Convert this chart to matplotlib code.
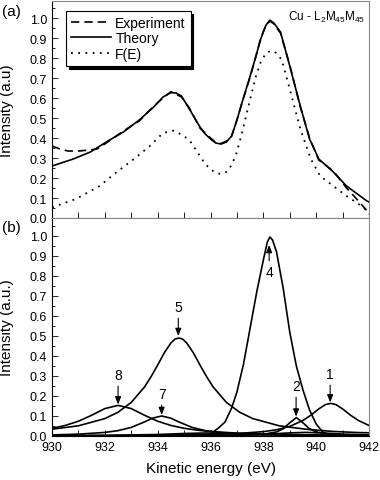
import numpy as np
import matplotlib
matplotlib.use('Agg')
import matplotlib.pyplot as plt
from matplotlib.ticker import MultipleLocator

plt.rcParams['font.family'] = ['Liberation Sans', 'DejaVu Sans']
plt.rcParams['mathtext.fontset'] = 'custom'
plt.rcParams['mathtext.rm'] = 'Liberation Sans'
plt.rcParams['mathtext.it'] = 'Liberation Sans'

# (a) measured spectrum, fitted theory and F(E)
exp_x = [930.0, 930.3, 930.6, 931.0, 931.4, 931.7, 932.05, 932.7, 933.3, 933.85, 934.2, 934.5, 934.9,
         935.2, 935.6, 935.8, 936.0, 936.2, 936.4, 936.6, 936.8, 937.0, 937.2, 937.5, 937.7, 937.9,
         938.1, 938.25, 938.4, 938.65, 939.0, 939.4, 939.75, 940.1, 940.65, 941.15, 941.5, 941.9, 942.0]
exp_y = [0.36, 0.345, 0.335, 0.335, 0.34, 0.345, 0.375, 0.435, 0.485, 0.56, 0.6, 0.632, 0.605,
         0.55, 0.45, 0.425, 0.40, 0.378, 0.372, 0.385, 0.41, 0.49, 0.58, 0.705, 0.80, 0.90,
         0.965, 0.985, 0.97, 0.925, 0.765, 0.555, 0.4, 0.29, 0.235, 0.15, 0.10, 0.04, 0.02]

theory_x = [930.0, 930.8, 931.45, 932.05, 932.7, 933.3, 933.85, 934.2, 934.5, 934.7, 934.9, 935.2, 935.6,
            935.8, 936.0, 936.2, 936.4, 936.6, 936.8, 937.0, 937.2, 937.5, 937.7, 937.9, 938.1, 938.25,
            938.4, 938.65, 939.0, 939.4, 939.75, 940.1, 940.65, 941.15, 941.9, 942.0]
theory_y = [0.26, 0.295, 0.33, 0.38, 0.43, 0.49, 0.555, 0.605, 0.627, 0.625, 0.61, 0.545, 0.455,
            0.42, 0.395, 0.375, 0.37, 0.38, 0.41, 0.49, 0.58, 0.71, 0.80, 0.895, 0.965, 0.99,
            0.975, 0.93, 0.76, 0.56, 0.395, 0.295, 0.23, 0.16, 0.087, 0.08]

fe_x = [930.0, 930.9, 931.8, 932.45, 933.1, 933.7, 934.2, 934.6, 935.0, 935.25, 935.6, 935.8, 936.0,
        936.2, 936.4, 936.6, 936.8, 937.0, 937.2, 937.5, 937.7, 937.9, 938.1, 938.3, 938.5, 938.7,
        939.0, 939.4, 939.8, 940.15, 940.65, 941.15, 941.8, 942.0]
fe_y = [0.053, 0.095, 0.16, 0.23, 0.295, 0.36, 0.425, 0.437, 0.41, 0.38, 0.31, 0.27, 0.245,
        0.225, 0.22, 0.23, 0.265, 0.33, 0.43, 0.595, 0.70, 0.78, 0.825, 0.837, 0.825, 0.79,
        0.645, 0.445, 0.295, 0.21, 0.16, 0.11, 0.053, 0.02]

# (b) fitted components
c1_x = [930, 934, 936, 937, 938, 938.5, 939, 939.5, 939.8, 940.1, 940.35, 940.55, 940.75, 941, 941.3, 941.6, 942]
c1_y = [0.0014, 0.0037, 0.0075, 0.012, 0.0217, 0.0313, 0.048, 0.0776, 0.104, 0.1355, 0.157, 0.163,
        0.157, 0.1355, 0.104, 0.0776, 0.0526]

c2_x = [930, 935, 937, 937.5, 938, 938.5, 938.75, 939, 939.25, 939.5, 939.75, 940, 940.5, 941, 941.5, 942]
c2_y = [0.0002, 0.0008, 0.0028, 0.0046, 0.0085, 0.0204, 0.0359, 0.066, 0.092, 0.066, 0.0359, 0.0204,
        0.0085, 0.0046, 0.0028, 0.0019]

c3_x = [930, 934, 936, 937, 938, 939, 939.6, 940.2, 941, 942]
c3_y = [0.0004, 0.0012, 0.0027, 0.0045, 0.0084, 0.0155, 0.018, 0.0155, 0.0096, 0.0052]

c4_x = [930, 935.8, 936.0, 936.3, 936.55, 936.8, 937.0, 937.25, 937.5, 937.75, 938.0, 938.15, 938.25,
        938.35, 938.5, 938.75, 939.0, 939.25, 939.5, 939.75, 940.0, 940.25, 940.5, 941.0, 942]
c4_y = [0.0, 0.0, 0.01, 0.04, 0.07, 0.14, 0.22, 0.36, 0.54, 0.72, 0.88, 0.97, 0.995,
        0.98, 0.92, 0.74, 0.52, 0.35, 0.23, 0.13, 0.06, 0.02, 0.005, 0.0, 0.0]

c5_x = [930, 931, 932, 932.5, 933, 933.5, 933.75, 934, 934.25, 934.5, 934.65, 934.8, 934.95, 935.1,
        935.35, 935.6, 935.85, 936.1, 936.6, 937.1, 937.6, 938.6, 939.6, 940.6, 941.6, 942]
c5_y = [0.034, 0.051, 0.087, 0.119, 0.168, 0.245, 0.297, 0.355, 0.416, 0.465, 0.484, 0.49, 0.484, 0.465,
        0.416, 0.355, 0.297, 0.245, 0.168, 0.119, 0.087, 0.051, 0.034, 0.023, 0.017, 0.016]

c6_x = [930, 932, 934, 935, 935.8, 936.6, 938, 940, 942]
c6_y = [0.0015, 0.0031, 0.0075, 0.0125, 0.015, 0.0125, 0.0061, 0.0023, 0.0012]

c7_x = [930, 931, 932, 932.5, 933, 933.5, 933.8, 934.15, 934.5, 934.8, 935.3, 935.8, 936.3, 937, 938, 939, 940, 942]
c7_y = [0.0055, 0.0092, 0.0178, 0.0269, 0.043, 0.0703, 0.089, 0.10, 0.089, 0.0703, 0.043, 0.0269,
        0.0178, 0.011, 0.0063, 0.0041, 0.0028, 0.0016]

c8_x = [930, 930.5, 931, 931.5, 932, 932.5, 933, 933.5, 934, 934.5, 935, 935.5, 936, 937, 938, 939, 940, 941, 942]
c8_y = [0.0385, 0.0527, 0.0739, 0.1037, 0.137, 0.153, 0.137, 0.1037, 0.0739, 0.0527, 0.0385, 0.029,
        0.0224, 0.0144, 0.0099, 0.0073, 0.0055, 0.0043, 0.0035]

# peak labels with arrows pointing down onto the peaks
peak_labels = ['1', '2', '5', '7', '8']
peak_pos = [940.53, 939.24, 934.78, 934.15, 932.5]
peak_top = [0.168, 0.097, 0.50, 0.105, 0.158]
label_y = [0.275, 0.215, 0.61, 0.175, 0.27]

fig = plt.figure(figsize=(3.8, 4.81), dpi=100)
ax1 = fig.add_axes([0.137, 0.5447, 0.834, 0.451])
ax2 = fig.add_axes([0.137, 0.0915, 0.834, 0.4532], sharex=ax1)

lw = 1.2
ax1.plot(exp_x, exp_y, color='k', lw=lw, ls=(0, (5, 3)), label='Experiment')
ax1.plot(theory_x, theory_y, color='k', lw=lw, label='Theory')
ax1.plot(fe_x, fe_y, color='k', lw=1.3, ls=(0, (1, 3)), label='F(E)')

leg = ax1.legend(loc='upper left', bbox_to_anchor=(0.044, 0.955), borderaxespad=0, fancybox=False,
                 edgecolor='k', framealpha=1, fontsize=10, handlelength=2.9, handletextpad=0.3,
                 labelspacing=0.12, borderpad=0.35, shadow={'color': 'k', 'alpha': 1})
leg.get_frame().set_linewidth(0.8)

ax1.text(941.85, 1.01, r'Cu - L$_2$M$_{45}$M$_{45}$', ha='right', va='center', fontsize=8.5)

for xs, ys in [(c1_x, c1_y), (c2_x, c2_y), (c3_x, c3_y), (c4_x, c4_y),
               (c5_x, c5_y), (c6_x, c6_y), (c7_x, c7_y), (c8_x, c8_y)]:
    ax2.plot(xs, ys, color='k', lw=lw)

arrow = dict(arrowstyle='-|>,head_length=0.45,head_width=0.18', color='k', lw=0.8, shrinkA=1, shrinkB=0)
for lab, px, pt, ty in zip(peak_labels, peak_pos, peak_top, label_y):
    ax2.annotate(lab, xy=(px, pt), xytext=(px, ty), ha='center', va='bottom', fontsize=10,
                 arrowprops=arrow)
ax2.annotate('4', xy=(938.22, 0.955), xytext=(938.22, 0.855), ha='center', va='top', fontsize=10,
             arrowprops=arrow)

for ax, top in [(ax1, 1.085), (ax2, 1.09)]:
    ax.set_xlim(930, 942)
    ax.set_ylim(0, top)
    ax.yaxis.set_major_locator(MultipleLocator(0.1))
    ax.yaxis.set_minor_locator(MultipleLocator(0.05))
    ax.xaxis.set_major_locator(MultipleLocator(2))
    ax.xaxis.set_minor_locator(MultipleLocator(1))
    ax.tick_params(which='both', direction='in', labelsize=9)
    ax.tick_params(which='major', length=4, width=0.6)
    ax.tick_params(which='minor', length=4, width=0.6)
    ax.tick_params(axis='y', which='minor', length=2)
    for s in ['top', 'right']:
        ax.spines[s].set_color('#888888')
        ax.spines[s].set_linewidth(0.8)
    for s in ['left', 'bottom']:
        ax.spines[s].set_linewidth(0.8)
    ax.yaxis.set_major_formatter(plt.FuncFormatter(lambda v, p: f'{v:.1f}'))

ax1.tick_params(labelbottom=False)
ax1.set_ylabel('Intensity (a.u)', fontsize=11, labelpad=4)
ax2.set_ylabel('Intensity (a.u.)', fontsize=11, labelpad=4)
ax2.set_xlabel('Kinetic energy (eV)', fontsize=11, labelpad=6)
ax1.yaxis.set_label_coords(-0.12, 0.5)
ax2.yaxis.set_label_coords(-0.12, 0.5)

fig.text(0.005, 0.975, '(a)', fontsize=11, va='center')
fig.text(0.005, 0.525, '(b)', fontsize=11, va='center')

fig.savefig('out.png', dpi=100)
